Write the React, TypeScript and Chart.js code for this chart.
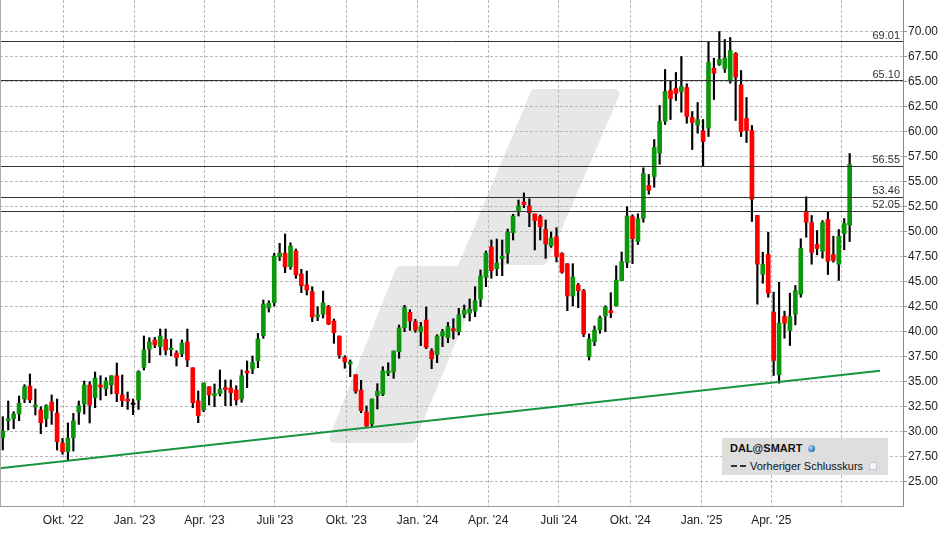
import React, { useEffect, useRef } from 'react';
import { Chart, registerables } from 'chart.js';

Chart.register(...registerables);

// Weekly candles (week ending Friday), first week ends 2022-07-15
const FIRST_WEEK_END = '2022-07-15';

const opens = [
  29.40, 31.10, 31.30, 31.77, 33.27, 34.57, 32.47, 32.17, 31.30, 32.97,
  31.87, 28.87, 28.00, 29.40, 31.97, 32.77, 34.67, 33.40, 34.67, 34.27,
  34.67, 35.60, 33.67, 33.27, 32.72, 33.17, 36.44, 38.24, 39.17, 38.50,
  39.23, 38.20, 37.87, 37.77, 38.97, 36.40, 33.07, 32.17, 34.50, 33.60,
  33.80, 34.40, 34.37, 34.17, 33.27, 36.07, 36.27, 37.10, 39.60, 42.37,
  42.90, 47.50, 47.87, 46.50, 48.07, 45.77, 44.67, 44.00, 41.50, 41.74,
  42.50, 41.07, 39.57, 37.44, 36.77, 35.70, 34.17, 31.97, 30.77, 33.60,
  33.74, 35.87, 35.97, 38.00, 40.40, 41.94, 41.00, 40.00, 41.17, 38.07,
  37.70, 39.57, 39.40, 40.30, 40.00, 41.74, 41.87, 42.07, 43.27, 45.44,
  48.47, 46.30, 47.30, 47.84, 49.90, 52.00, 52.97, 52.57, 51.77, 51.50,
  50.24, 48.60, 49.47, 47.84, 46.80, 43.57, 44.67, 44.10, 37.50, 39.00,
  40.20, 41.57, 42.10, 42.57, 45.10, 46.90, 51.50, 49.02, 51.35, 54.62,
  55.52, 57.85, 61.05, 64.12, 64.32, 64.02, 64.42, 61.42, 60.65, 60.09,
  60.35, 66.35, 66.72, 66.32, 65.05, 67.82, 64.69, 61.32, 60.12, 51.62,
  45.75, 47.72, 41.95, 35.69, 41.52, 40.12, 41.75, 43.75, 51.95, 50.92,
  48.72, 48.05, 51.22, 47.72, 46.75, 49.82, 50.65,
];

const highs = [
  31.50, 33.07, 32.00, 33.57, 34.70, 35.77, 34.27, 32.50, 32.70, 33.67,
  33.27, 29.33, 30.87, 31.83, 33.07, 35.07, 35.00, 35.97, 35.60, 35.40,
  35.60, 36.87, 35.67, 33.97, 33.27, 36.10, 39.57, 39.40, 39.43, 40.27,
  40.27, 39.27, 38.10, 39.17, 40.27, 36.40, 34.07, 34.87, 34.50, 34.77,
  36.17, 35.17, 35.17, 34.60, 36.17, 37.07, 37.57, 39.83, 43.17, 43.10,
  47.84, 48.84, 49.77, 48.90, 48.27, 46.24, 46.07, 44.50, 42.50, 44.07,
  42.64, 41.27, 39.57, 37.60, 37.17, 35.70, 35.14, 32.57, 33.27, 34.80,
  36.50, 36.90, 38.07, 40.67, 42.64, 42.20, 41.24, 40.94, 42.47, 38.30,
  39.70, 40.24, 40.94, 41.30, 42.34, 42.67, 43.27, 44.50, 46.17, 48.07,
  49.17, 49.27, 49.17, 50.27, 51.74, 53.17, 53.87, 53.30, 51.77, 51.67,
  51.17, 49.97, 50.40, 47.90, 46.80, 46.80, 44.84, 44.24, 39.77, 40.57,
  41.57, 42.60, 43.90, 46.60, 47.97, 52.50, 51.70, 51.79, 56.39, 55.72,
  59.22, 62.62, 66.22, 65.09, 65.92, 67.52, 64.79, 62.02, 62.92, 61.22,
  69.02, 67.35, 70.02, 69.22, 69.42, 67.92, 66.12, 63.42, 60.62, 51.62,
  47.95, 49.95, 43.95, 44.95, 42.05, 43.85, 44.62, 49.29, 53.49, 51.62,
  50.12, 51.12, 51.99, 49.55, 50.22, 51.32, 57.82,
];

const lows = [
  28.17, 30.17, 30.30, 31.10, 32.90, 32.90, 31.67, 29.80, 30.50, 30.73,
  28.17, 27.74, 27.17, 28.07, 30.73, 31.77, 30.87, 32.40, 33.17, 33.60,
  33.77, 33.00, 32.50, 32.23, 31.70, 32.23, 36.17, 36.90, 38.40, 37.67,
  37.67, 37.60, 36.57, 37.50, 36.50, 32.40, 30.90, 32.00, 32.67, 32.50,
  33.57, 32.60, 32.60, 32.67, 32.94, 34.40, 35.80, 36.40, 39.33, 41.97,
  42.57, 47.10, 45.90, 46.24, 45.34, 43.90, 43.67, 41.00, 41.10, 41.37,
  40.70, 38.84, 37.34, 36.34, 35.50, 33.84, 31.90, 30.44, 30.57, 32.27,
  33.60, 35.60, 35.34, 37.34, 40.00, 40.14, 39.94, 38.60, 38.30, 36.30,
  36.90, 38.50, 38.90, 39.27, 39.67, 41.40, 41.07, 41.50, 42.50, 44.50,
  45.34, 45.60, 45.60, 46.84, 49.17, 51.57, 52.40, 50.50, 48.17, 49.17,
  47.34, 48.44, 46.97, 45.84, 42.10, 42.57, 42.40, 39.50, 37.17, 38.60,
  39.84, 40.00, 41.40, 42.57, 45.10, 46.40, 46.80, 48.72, 50.95, 53.75,
  54.45, 56.75, 60.72, 61.22, 63.12, 61.95, 60.85, 58.22, 59.85, 56.59,
  59.52, 63.22, 66.62, 65.92, 64.85, 61.12, 59.52, 58.92, 51.02, 42.75,
  44.85, 43.45, 35.62, 34.85, 39.35, 38.62, 40.69, 43.45, 49.45, 46.75,
  47.69, 47.35, 45.72, 46.95, 45.12, 48.19, 49.02,
];

const closes = [
  30.07, 31.30, 31.77, 32.83, 34.50, 33.17, 32.67, 30.90, 32.60, 32.10,
  29.00, 28.00, 29.37, 31.07, 32.60, 34.67, 32.67, 35.37, 34.47, 35.07,
  35.60, 33.80, 33.10, 33.07, 32.72, 36.00, 38.17, 38.97, 38.67, 39.57,
  38.17, 38.37, 37.40, 38.87, 37.17, 32.90, 31.60, 34.87, 33.67, 33.80,
  34.27, 34.20, 33.90, 33.17, 35.60, 35.87, 36.94, 39.27, 42.77, 42.84,
  47.57, 47.87, 46.47, 48.57, 45.67, 44.60, 44.17, 41.47, 41.67, 42.87,
  40.77, 39.90, 37.67, 36.97, 36.97, 34.07, 32.10, 30.57, 33.27, 34.04,
  36.07, 36.07, 38.07, 40.40, 42.40, 41.07, 40.17, 40.50, 38.44, 37.30,
  39.57, 40.00, 40.50, 40.10, 41.67, 42.17, 42.27, 43.10, 45.57, 47.87,
  46.10, 46.87, 47.57, 49.97, 51.57, 52.57, 52.70, 51.90, 51.10, 50.50,
  48.77, 49.37, 47.50, 45.94, 43.57, 45.47, 44.10, 39.77, 39.27, 40.17,
  41.40, 42.47, 41.90, 45.17, 47.00, 51.57, 49.30, 51.32, 55.82, 54.15,
  58.42, 61.02, 64.02, 63.32, 63.82, 64.52, 61.52, 60.92, 61.22, 59.02,
  66.92, 65.85, 67.22, 67.35, 68.12, 65.45, 60.02, 60.12, 53.25, 46.75,
  46.72, 43.85, 37.12, 40.85, 40.85, 41.52, 44.12, 48.32, 50.95, 47.92,
  48.32, 50.92, 47.05, 47.12, 49.52, 50.82, 56.72,
];

const quarterDates = [
  '2022-10-01', '2023-01-01', '2023-04-01', '2023-07-01', '2023-10-01', '2024-01-01',
  '2024-04-01', '2024-07-01', '2024-10-01', '2025-01-01', '2025-04-01', '2025-07-01',
];
const quarterLabels = [
  "Okt. '22", "Jan. '23", "Apr. '23", "Juli '23", "Okt. '23", "Jan. '24",
  "Apr. '24", "Juli '24", "Okt. '24", "Jan. '25", "Apr. '25", '',
];

const yTickValues = [
  25, 27.5, 30, 32.5, 35, 37.5, 40, 42.5, 45, 47.5,
  50, 52.5, 55, 57.5, 60, 62.5, 65, 67.5, 70,
];

const levelValues = [69.01, 65.1, 56.55, 53.46, 52.05];

const trendDates = ['2022-07-11', '2025-08-19'];
const trendValues = [26.33, 36.1];

const legendTitle = 'DAL@SMART';
const legendItem = 'Vorheriger Schlusskurs';

const GREEN = '#0c960c';
const RED = '#ff0000';
const FONT = "'Liberation Sans', Arial, sans-serif";

const dayOf = (s: string) => Date.parse(s + 'T00:00:00Z') / 86400000;

export default function App() {
  const ref = useRef<HTMLCanvasElement>(null);

  useEffect(() => {
    document.body.style.margin = '0';
    const start = dayOf(FIRST_WEEK_END);
    const xs = opens.map((_, i) => start + 7 * i);
    const anchor = dayOf('2022-10-01');
    const xMin = anchor - 81.6;
    const xMax = anchor + 1082.8;
    const quarterDays = quarterDates.map(dayOf);

    const colorOf = (i: number) =>
      closes[i] > opens[i] ? GREEN : closes[i] < opens[i] ? RED : '#000000';

    const watermark = {
      id: 'watermark',
      beforeDraw(chart: any) {
        const ctx = chart.ctx;
        const pts = [
          [535.3, 94], [614.5, 94], [542.8, 260], [484.7, 260],
          [410.7, 438], [334.4, 438], [400.3, 271], [461.3, 271],
        ];
        ctx.save();
        ctx.beginPath();
        pts.forEach((p, i) => (i ? ctx.lineTo(p[0], p[1]) : ctx.moveTo(p[0], p[1])));
        ctx.closePath();
        ctx.fillStyle = '#e7e7e7';
        ctx.strokeStyle = '#e7e7e7';
        ctx.lineJoin = 'round';
        ctx.lineWidth = 10;
        ctx.fill();
        ctx.stroke();
        ctx.restore();
      },
    };

    // pixel-align the horizontal level lines so they render crisp
    const crispLevels = {
      id: 'crispLevels',
      beforeDatasetDraw(chart: any, args: any) {
        const ds = chart.data.datasets[args.index];
        if (!ds.isLevel) return;
        const el = args.meta.data[0];
        const y = el ? el.y : 0;
        const delta = Math.round(y - 0.5) + 0.5 - y;
        chart.ctx.save();
        chart.ctx.translate(0, delta);
      },
      afterDatasetDraw(chart: any, args: any) {
        const ds = chart.data.datasets[args.index];
        if (!ds.isLevel) return;
        chart.ctx.restore();
      },
    };

    const levelLabels = {
      id: 'levelLabels',
      afterDatasetsDraw(chart: any) {
        const ctx = chart.ctx;
        const y = chart.scales.y;
        const right = chart.chartArea.right;
        ctx.save();
        ctx.font = `11px ${FONT}`;
        ctx.fillStyle = '#333';
        ctx.textAlign = 'right';
        ctx.textBaseline = 'alphabetic';
        levelValues.forEach((v) => {
          ctx.fillText(v.toFixed(2), right - 3, Math.round(y.getPixelForValue(v)) - 3);
        });
        // left frame line
        ctx.strokeStyle = '#aaa';
        ctx.lineWidth = 1;
        ctx.beginPath();
        ctx.moveTo(chart.chartArea.left + 0.5, chart.chartArea.top);
        ctx.lineTo(chart.chartArea.left + 0.5, chart.chartArea.bottom);
        ctx.stroke();
        ctx.restore();
      },
    };

    const levelSets = levelValues.map((v) => ({
      type: 'line' as const,
      isLevel: true,
      data: [{ x: xMin, y: v }, { x: xMax, y: v }],
      borderColor: '#333333',
      borderWidth: 1,
      pointRadius: 0,
      order: 0,
    }));

    const chart = new Chart(ref.current!, {
      type: 'bar',
      data: {
        datasets: [
          ...levelSets,
          {
            type: 'line',
            data: trendDates.map((d, i) => ({ x: dayOf(d), y: trendValues[i] })),
            borderColor: '#16963c',
            borderWidth: 2,
            pointRadius: 0,
            order: 0,
          } as any,
          {
            type: 'bar',
            data: xs.map((x, i) => ({ x, y: [opens[i], closes[i]] })),
            backgroundColor: xs.map((_, i) => colorOf(i)),
            barThickness: 4,
            minBarLength: 1.5,
            grouped: false,
            order: 1,
          } as any,
          {
            type: 'bar',
            data: xs.map((x, i) => ({ x, y: [lows[i], highs[i]] })),
            backgroundColor: '#000000',
            barThickness: 1.5,
            grouped: false,
            order: 2,
          } as any,
        ] as any,
      },
      options: {
        responsive: false,
        animation: false,
        events: [],
        layout: { padding: 0 },
        plugins: { legend: { display: false }, tooltip: { enabled: false } },
        scales: {
          x: {
            type: 'linear',
            min: xMin,
            max: xMax,
            offset: false,
            afterBuildTicks: (s: any) => {
              s.ticks = quarterDays.map((v) => ({ value: v }));
            },
            afterFit: (s: any) => {
              s.height = 28;
              s.paddingLeft = 0;
              s.paddingRight = 0;
            },
            grid: { offset: false, color: '#b8b8b8', lineWidth: 1, drawTicks: false },
            border: { display: true, color: '#999', width: 1, dash: [3, 2] },
            ticks: {
              autoSkip: false,
              maxRotation: 0,
              padding: 7,
              color: '#222',
              font: { family: FONT, size: 12 },
              callback: (_v: any, i: number) => quarterLabels[i],
            },
          },
          y: {
            type: 'linear',
            position: 'right',
            min: 22.57,
            max: 73.17,
            afterBuildTicks: (s: any) => {
              s.ticks = yTickValues.map((v) => ({ value: v }));
            },
            afterFit: (s: any) => {
              s.width = 45;
              s.paddingTop = 0;
              s.paddingBottom = 0;
            },
            grid: { color: '#b8b8b8', lineWidth: 1, drawTicks: true, tickLength: 4, tickColor: '#999' },
            border: { display: true, color: '#888', width: 1, dash: [3, 2] },
            ticks: {
              autoSkip: false,
              padding: 1,
              color: '#222',
              font: { family: FONT, size: 12 },
              callback: (v: any) => Number(v).toFixed(2),
            },
          },
        },
      } as any,
      plugins: [watermark, crispLevels, levelLabels],
    });
    return () => chart.destroy();
  }, []);

  return (
    <div style={{ position: 'fixed', left: 0, top: 0, width: 948, height: 534, background: '#fff' }}>
      <canvas ref={ref} width={948} height={534} style={{ display: 'block' }} />
      <div
        style={{
          position: 'absolute', left: 722, top: 438, width: 166, height: 37,
          background: '#dedede', fontFamily: FONT, fontSize: 11, color: '#111',
        }}
      >
        <div style={{ position: 'absolute', left: 8, top: 4, fontWeight: 'bold', whiteSpace: 'nowrap' }}>
          {legendTitle}
          <span
            style={{
              display: 'inline-block', width: 7, height: 7, borderRadius: '50%', marginLeft: 6,
              background: 'radial-gradient(circle at 35% 35%, #bfe0ff, #2a6fb8 70%, #1b4f8a)',
              verticalAlign: 'middle', position: 'relative', top: -1,
            }}
          />
        </div>
        <div style={{ position: 'absolute', left: 9, top: 22, whiteSpace: 'nowrap', display: 'flex', alignItems: 'center' }}>
          <span style={{ display: 'inline-block', width: 6, height: 2, background: '#333', marginRight: 3 }} />
          <span style={{ display: 'inline-block', width: 6, height: 2, background: '#333', marginRight: 4 }} />
          <span>{legendItem}</span>
          <span
            style={{
              display: 'inline-block', width: 6, height: 6, border: '1px solid #c8c8d8',
              background: '#f4f4fa', marginLeft: 6,
            }}
          />
        </div>
      </div>
    </div>
  );
}
